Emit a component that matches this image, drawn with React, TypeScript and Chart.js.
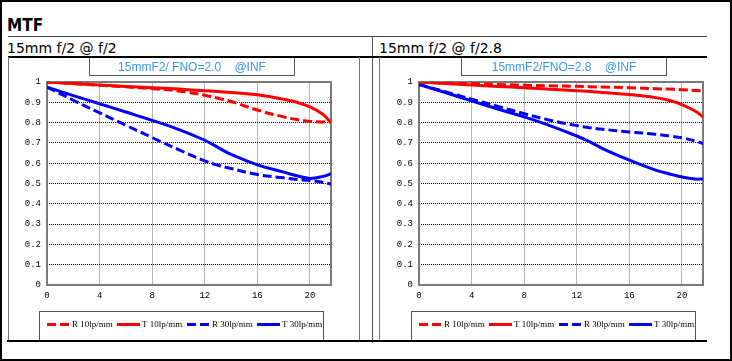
import React, { useEffect, useRef } from "react";
import { Chart, registerables } from "chart.js";

Chart.register(...registerables);

// Image height (mm) positions at which the curves were read
const imageHeights = [0, 2, 4, 6, 8, 10, 12, 13, 14, 16, 18, 19, 20, 21, 21.6];

// 15mm f/2 @ f/2
const f2R10 = [1.0, 0.992, 0.984, 0.976, 0.967, 0.956, 0.935, 0.92, 0.904, 0.862, 0.828, 0.815, 0.806, 0.803, 0.803];
const f2T10 = [1.0, 0.993, 0.985, 0.978, 0.972, 0.965, 0.957, 0.953, 0.948, 0.937, 0.915, 0.9, 0.877, 0.84, 0.8];
const f2R30 = [0.975, 0.91, 0.848, 0.787, 0.726, 0.667, 0.611, 0.59, 0.574, 0.544, 0.528, 0.52, 0.515, 0.505, 0.498];
const f2T30 = [0.975, 0.933, 0.893, 0.852, 0.811, 0.767, 0.713, 0.678, 0.643, 0.592, 0.556, 0.538, 0.525, 0.535, 0.548];

// 15mm f/2 @ f/2.8
const f28R10 = [1.0, 0.996, 0.992, 0.988, 0.984, 0.981, 0.979, 0.977, 0.975, 0.972, 0.967, 0.965, 0.962, 0.958, 0.956];
const f28T10 = [1.0, 0.992, 0.985, 0.978, 0.972, 0.964, 0.957, 0.953, 0.948, 0.938, 0.923, 0.91, 0.889, 0.857, 0.828];
const f28R30 = [0.988, 0.952, 0.915, 0.88, 0.844, 0.811, 0.785, 0.775, 0.767, 0.754, 0.743, 0.735, 0.725, 0.71, 0.697];
const f28T30 = [0.988, 0.948, 0.907, 0.867, 0.828, 0.784, 0.734, 0.705, 0.671, 0.615, 0.566, 0.548, 0.532, 0.522, 0.522];

const seriesLabels = ["R 10lp/mm", "T 10lp/mm", "R 30lp/mm", "T 30lp/mm"];
const seriesColors = ["#ff0000", "#ff0000", "#0000ff", "#0000ff"];
const seriesDashed = [true, false, true, false];

const xMin = 0;
const xMax = 21.6;
const xTickStep = 4;
const yMin = 0;
const yMax = 1;
const yTickStep = 0.1;

const pageTitle = "MTF";
const panelHeadings = ["15mm f/2 @ f/2", "15mm f/2 @ f/2.8"];
const chartTitles = ["15mmF2/ FNO=2.0    @INF", "15mmF2/FNO=2.8    @INF"];

const decorPlugin = {
  id: "decor",
  beforeDatasetsDraw(chart: any) {
    const { ctx, chartArea: a } = chart;
    ctx.save();
    ctx.strokeStyle = "#7a7a7a";
    ctx.lineWidth = 2;
    ctx.strokeRect(a.left, a.top, a.right - a.left, a.bottom - a.top);
    ctx.restore();
  },
  afterDraw(chart: any, _args: any, opts: any) {
    const { ctx } = chart;
    ctx.save();
    // title box
    ctx.lineWidth = 1;
    ctx.strokeStyle = "#555";
    ctx.setLineDash([]);
    ctx.strokeRect(81.5, 0.5, 205, 18);
    ctx.fillStyle = "#3b97e6";
    ctx.font = "12px 'Liberation Sans', Arial, sans-serif";
    ctx.textAlign = "center";
    ctx.textBaseline = "middle";
    ctx.fillText(opts.title, 184, 10.5);
    // legend box
    ctx.strokeStyle = "#555";
    ctx.strokeRect(31.5, 254.5, 284, 40);
    ctx.font = "9px 'Liberation Serif', serif";
    ctx.textAlign = "left";
    ctx.textBaseline = "middle";
    chart.data.datasets.forEach((ds: any, i: number) => {
      const x0 = 39 + i * 70;
      const y = 267.5;
      ctx.strokeStyle = ds.borderColor;
      ctx.lineWidth = 3;
      ctx.setLineDash(ds.borderDash || []);
      ctx.beginPath();
      ctx.moveTo(x0, y);
      ctx.lineTo(x0 + 23, y);
      ctx.stroke();
      ctx.setLineDash([]);
      ctx.fillStyle = "#000";
      ctx.fillText(ds.label, x0 + 25, y);
    });
    ctx.restore();
  },
};

function MtfPanel(props: {
  series: number[][];
  title: string;
  left: number;
  width: number;
  padRight: number;
}) {
  const ref = useRef<HTMLCanvasElement>(null);
  useEffect(() => {
    const chart = new Chart(ref.current as HTMLCanvasElement, {
      type: "line",
      data: {
        datasets: props.series.map((vals, i) => ({
          label: seriesLabels[i],
          data: imageHeights.map((x, j) => ({ x, y: vals[j] })),
          borderColor: seriesColors[i],
          backgroundColor: seriesColors[i],
          borderWidth: 3,
          borderDash: seriesDashed[i] ? [9, 4] : [],
          pointRadius: 0,
          tension: 0.4,
          fill: false,
        })),
      } as any,
      options: {
        animation: false,
        responsive: false,
        devicePixelRatio: 1,
        layout: { padding: { left: 6, right: props.padRight, top: 25, bottom: 35 } },
        plugins: {
          legend: { display: false },
          tooltip: { enabled: false },
          decor: { title: props.title },
        } as any,
        scales: {
          x: {
            type: "linear",
            min: xMin,
            max: xMax,
            afterFit: (s: any) => {
              s.height = 20;
            },
            grid: { color: "#b4b4b4", lineWidth: 1, drawTicks: false },
            border: { display: false },
            ticks: {
              stepSize: xTickStep,
              includeBounds: false,
              padding: 5,
              color: "#000",
              font: { family: "'Liberation Mono', monospace", size: 9 },
              maxRotation: 0,
            },
          },
          y: {
            type: "linear",
            min: yMin,
            max: yMax,
            afterFit: (s: any) => {
              s.width = 33;
            },
            grid: {
              color: (c: any) =>
                c.tick && c.tick.value > 0.05 && c.tick.value < 0.95 ? "#000" : "rgba(0,0,0,0)",
              lineWidth: 1,
              drawTicks: false,
            },
            border: { display: false, dash: [1, 1] },
            ticks: {
              stepSize: yTickStep,
              padding: 6,
              color: "#000",
              font: { family: "'Liberation Mono', monospace", size: 9 },
              callback: (v: any) => {
                const n = Number(v);
                if (Math.abs(n) < 1e-9) return "0";
                if (Math.abs(n - 1) < 1e-9) return "1";
                return n.toFixed(1);
              },
            },
          },
        } as any,
      },
      plugins: [decorPlugin],
    });
    return () => chart.destroy();
  }, []);
  return (
    <canvas
      ref={ref}
      width={props.width}
      height={283}
      style={{ position: "absolute", left: props.left, top: 57, width: props.width, height: 283 }}
    />
  );
}

const line = (left: number, top: number, width: number, height: number, bg: string) => (
  <div style={{ position: "absolute", left, top, width, height, background: bg }} />
);

export default function App() {
  return (
    <div
      style={{
        position: "absolute",
        left: 0,
        top: 0,
        width: 732,
        height: 361,
        background: "#fff",
        overflow: "hidden",
      }}
    >
      <div
        style={{
          position: "absolute",
          left: 7,
          top: 17,
          fontFamily: "'DejaVu Sans Condensed', 'Liberation Sans', sans-serif",
          fontWeight: "bold",
          fontSize: 17,
          lineHeight: "17px",
          color: "#000",
          whiteSpace: "pre",
        }}
      >
        {pageTitle}
      </div>
      <div
        style={{
          position: "absolute",
          left: 7,
          top: 41,
          fontFamily: "'DejaVu Sans', sans-serif",
          fontSize: 14,
          lineHeight: "14px",
          color: "#000",
          whiteSpace: "pre",
        }}
      >
        {panelHeadings[0]}
      </div>
      <div
        style={{
          position: "absolute",
          left: 379,
          top: 41,
          fontFamily: "'DejaVu Sans', sans-serif",
          fontSize: 14,
          lineHeight: "14px",
          color: "#000",
          whiteSpace: "pre",
        }}
      >
        {panelHeadings[1]}
      </div>

      <MtfPanel series={[f2R10, f2T10, f2R30, f2T30]} title={chartTitles[0]} left={8} width={352} padRight={29} />
      <MtfPanel series={[f28R10, f28T10, f28R30, f28T30]} title={chartTitles[1]} left={380} width={327} padRight={4} />

      {line(8, 36, 699, 1, "#444")}
      {line(372, 36, 1, 307, "#555")}
      {line(8, 56, 699, 2, "#000")}
      {line(8, 57, 1, 283, "#777")}
      {line(359, 57, 1, 283, "#777")}
      {line(379, 57, 1, 283, "#777")}
      {line(7, 340, 700, 2, "#000")}
      <div
        style={{
          position: "absolute",
          left: 0,
          top: 0,
          width: 732,
          height: 361,
          border: "2px solid #000",
          boxSizing: "border-box",
        }}
      />
    </div>
  );
}
